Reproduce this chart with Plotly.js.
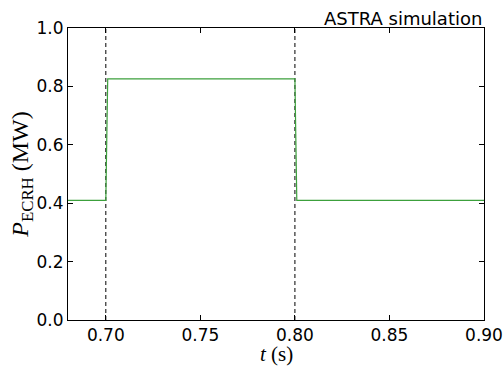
<!DOCTYPE html>
<html>
<head>
<meta charset="utf-8">
<script src="https://cdn.plot.ly/plotly-3.0.1.min.js"></script>
<style>html,body{margin:0;padding:0;background:#fff;}#chart{width:504px;height:367px;}</style>
</head>
<body>
<div id="chart"></div>
<script>
// Data
const time = [0.68, 0.700, 0.701, 0.800, 0.801, 0.90];
const pEcrh = [0.41, 0.41, 0.826, 0.826, 0.41, 0.41];
const markerTimes = [0.70, 0.80];
const xTicks = [0.70, 0.75, 0.80, 0.85, 0.90];
const xTickLabels = ["0.70", "0.75", "0.80", "0.85", "0.90"];
const yTicks = [0.0, 0.2, 0.4, 0.6, 0.8, 1.0];
const yTickLabels = ["0.0", "0.2", "0.4", "0.6", "0.8", "1.0"];

const traces = [];
markerTimes.forEach(t => {
  traces.push({
    x: [t, t], y: [0, 1], mode: 'lines', type: 'scatter',
    line: {color: 'black', width: 1, dash: '4px,3px'},
    hoverinfo: 'skip', showlegend: false
  });
});
traces.push({
  x: time, y: pEcrh, mode: 'lines', type: 'scatter',
  line: {color: 'rgb(60,160,60)', width: 1.2},
  showlegend: false
});

const axisCommon = {
  showline: true, linecolor: 'black', linewidth: 1,
  mirror: 'ticks', ticks: 'inside', ticklen: 5, tickcolor: 'black', tickwidth: 1,
  showgrid: false, zeroline: false, automargin: false,
  tickfont: {family: 'DejaVu Sans', size: 17, color: 'black'}
};

const layout = {
  width: 504, height: 367,
  margin: {l: 68, r: 20, t: 28, b: 47},
  paper_bgcolor: 'white', plot_bgcolor: 'white',
  xaxis: Object.assign({}, axisCommon, {
    range: [0.68, 0.90], tickvals: xTicks, ticktext: xTickLabels
  }),
  yaxis: Object.assign({}, axisCommon, {
    range: [0, 1], tickvals: yTicks, ticktext: yTickLabels,
    title: {text: '<i>P</i><sub>ECRH</sub> (MW)', font: {family: 'Liberation Serif', size: 24, color: 'black'}, standoff: 0}
  }),
  annotations: [{
    text: 'ASTRA simulation', xref: 'paper', yref: 'paper', x: 1, y: 1,
    xanchor: 'right', yanchor: 'bottom', showarrow: false, yshift: -3,
    font: {family: 'DejaVu Sans', size: 18, color: 'black'}
  }, {
    text: '<i>t</i> (s)', xref: 'paper', yref: 'paper', x: 0.5, y: 0,
    xanchor: 'center', yanchor: 'middle', showarrow: false, yshift: -34,
    font: {family: 'Liberation Serif', size: 21, color: 'black'}
  }]
};

Plotly.newPlot('chart', traces, layout, {staticPlot: true});
</script>
</body>
</html>
